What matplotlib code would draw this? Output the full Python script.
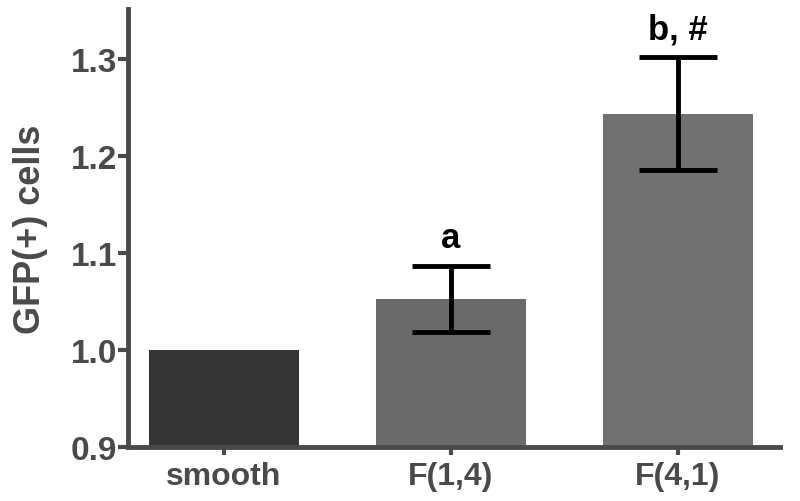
import matplotlib
matplotlib.use("Agg")
import matplotlib.pyplot as plt

categories = ["smooth", "F(1,4)", "F(4,1)"]
values = [1.0, 1.053, 1.244]
errors = [0.0, 0.034, 0.058]
annotations = ["", "a", "b, #"]
bar_colors = ["#353535", "#6a6a6a", "#717171"]
yticks = [0.9, 1.0, 1.1, 1.2, 1.3]

plt.rcParams['font.family'] = ['Liberation Sans', 'DejaVu Sans']
axis_color = "#4a4a4a"

fig = plt.figure(figsize=(8, 5.02), dpi=100)
ax = fig.add_axes([0.16, 0.1076, 0.815, 0.8725])

x = list(range(len(categories)))
ax.bar(x, values, width=0.66, color=bar_colors, zorder=2)
for xi, v, e, t in zip(x, values, errors, annotations):
    if e > 0:
        ax.errorbar(xi, v, yerr=e, fmt='none', ecolor='black', elinewidth=3.5,
                    capsize=28, capthick=3.5, zorder=3)
        ax.text(xi, v + e + 0.012, t, ha='center', va='bottom', fontsize=25,
                fontweight='bold', color='black')

ax.set_xlim(-0.423, 2.45)
ax.set_ylim(0.9, 1.352)
ax.set_yticks(yticks)
ax.set_yticklabels([f"{t:.1f}" for t in yticks])
ax.set_xticks(x)
ax.set_xticklabels(categories)

for s in ['top', 'right']:
    ax.spines[s].set_visible(False)
for s in ['left', 'bottom']:
    ax.spines[s].set_linewidth(3.5)
    ax.spines[s].set_color(axis_color)

ax.tick_params(axis='y', length=7, width=3, color=axis_color, labelsize=24,
               labelcolor=axis_color, pad=1)
ax.tick_params(axis='x', length=6, width=3, color=axis_color, labelsize=23,
               labelcolor=axis_color, pad=4)
for lbl in ax.get_xticklabels() + ax.get_yticklabels():
    lbl.set_fontweight('bold')

ax.set_ylabel("GFP(+) cells", fontsize=26, fontweight='bold', color=axis_color, labelpad=16)

fig.savefig("out.png", dpi=100)
